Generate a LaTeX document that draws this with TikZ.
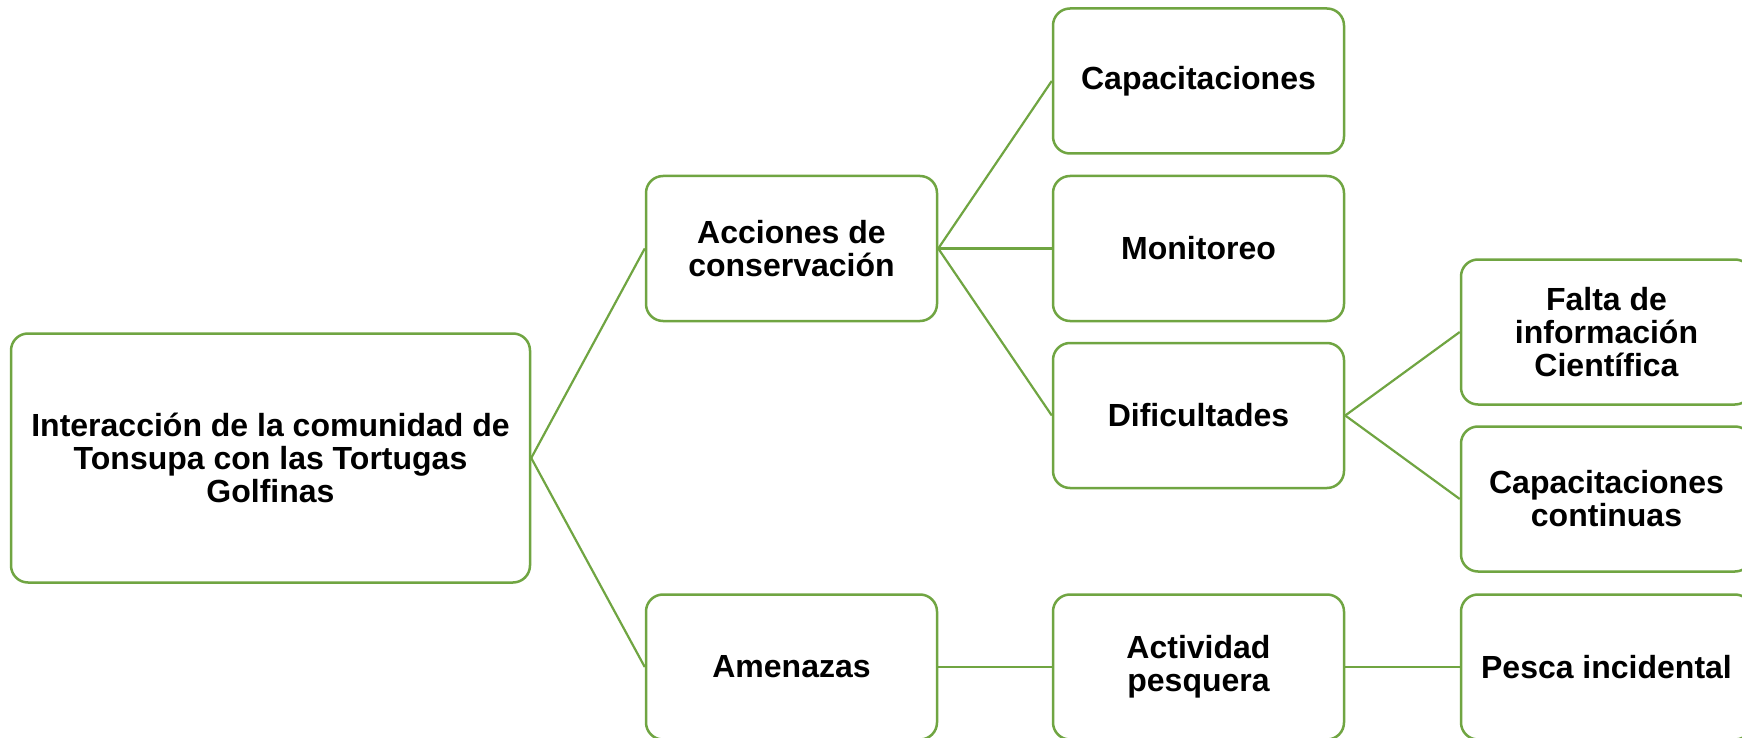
\documentclass[tikz,border=0pt]{standalone}
\usepackage{fontspec}
\setmainfont{Liberation Sans}
\definecolor{gline}{RGB}{112,165,66}
\begin{document}
\begin{tikzpicture}[x=0.5pt,y=-0.5pt,
  box/.style={draw=gline, line width=1.25pt, rounded corners=8.5pt, fill=white,
    minimum width=145.5pt, minimum height=72.5pt, align=center, inner sep=2pt,
    font=\fontsize{16}{16.5}\selectfont\bfseries},
  link/.style={draw=gline, line width=1.1pt}]
\useasboundingbox (0,0) rectangle (1742,738);
\node[box, minimum width=259.5pt, minimum height=124.5pt] (root) at (270.5,458) {Interacción de la comunidad de\\Tonsupa con las Tortugas\\Golfinas};
\node[box] (acc) at (791.5,248.5) {Acciones de\\conservación};
\node[box] (ame) at (791.5,667) {Amenazas};
\node[box] (cap) at (1198.5,81) {Capacitaciones};
\node[box] (mon) at (1198.5,248.5) {Monitoreo};
\node[box] (dif) at (1198.5,415.5) {Dificultades};
\node[box] (act) at (1198.5,667) {Actividad\\pesquera};
\node[box] (fal) at (1606.5,332) {Falta de\\información\\Científica};
\node[box] (cc) at (1606.5,499) {Capacitaciones\\continuas};
\node[box] (pes) at (1606.5,667) {Pesca incidental};
\draw[link] (root.east) -- (acc.west);
\draw[link] (root.east) -- (ame.west);
\draw[link] (acc.east) -- (cap.west);
\draw[link] (acc.east) -- (mon.west);
\draw[link] (acc.east) -- (dif.west);
\draw[link] (dif.east) -- (fal.west);
\draw[link] (dif.east) -- (cc.west);
\draw[link] (ame.east) -- (act.west);
\draw[link] (act.east) -- (pes.west);
\end{tikzpicture}
\end{document}
